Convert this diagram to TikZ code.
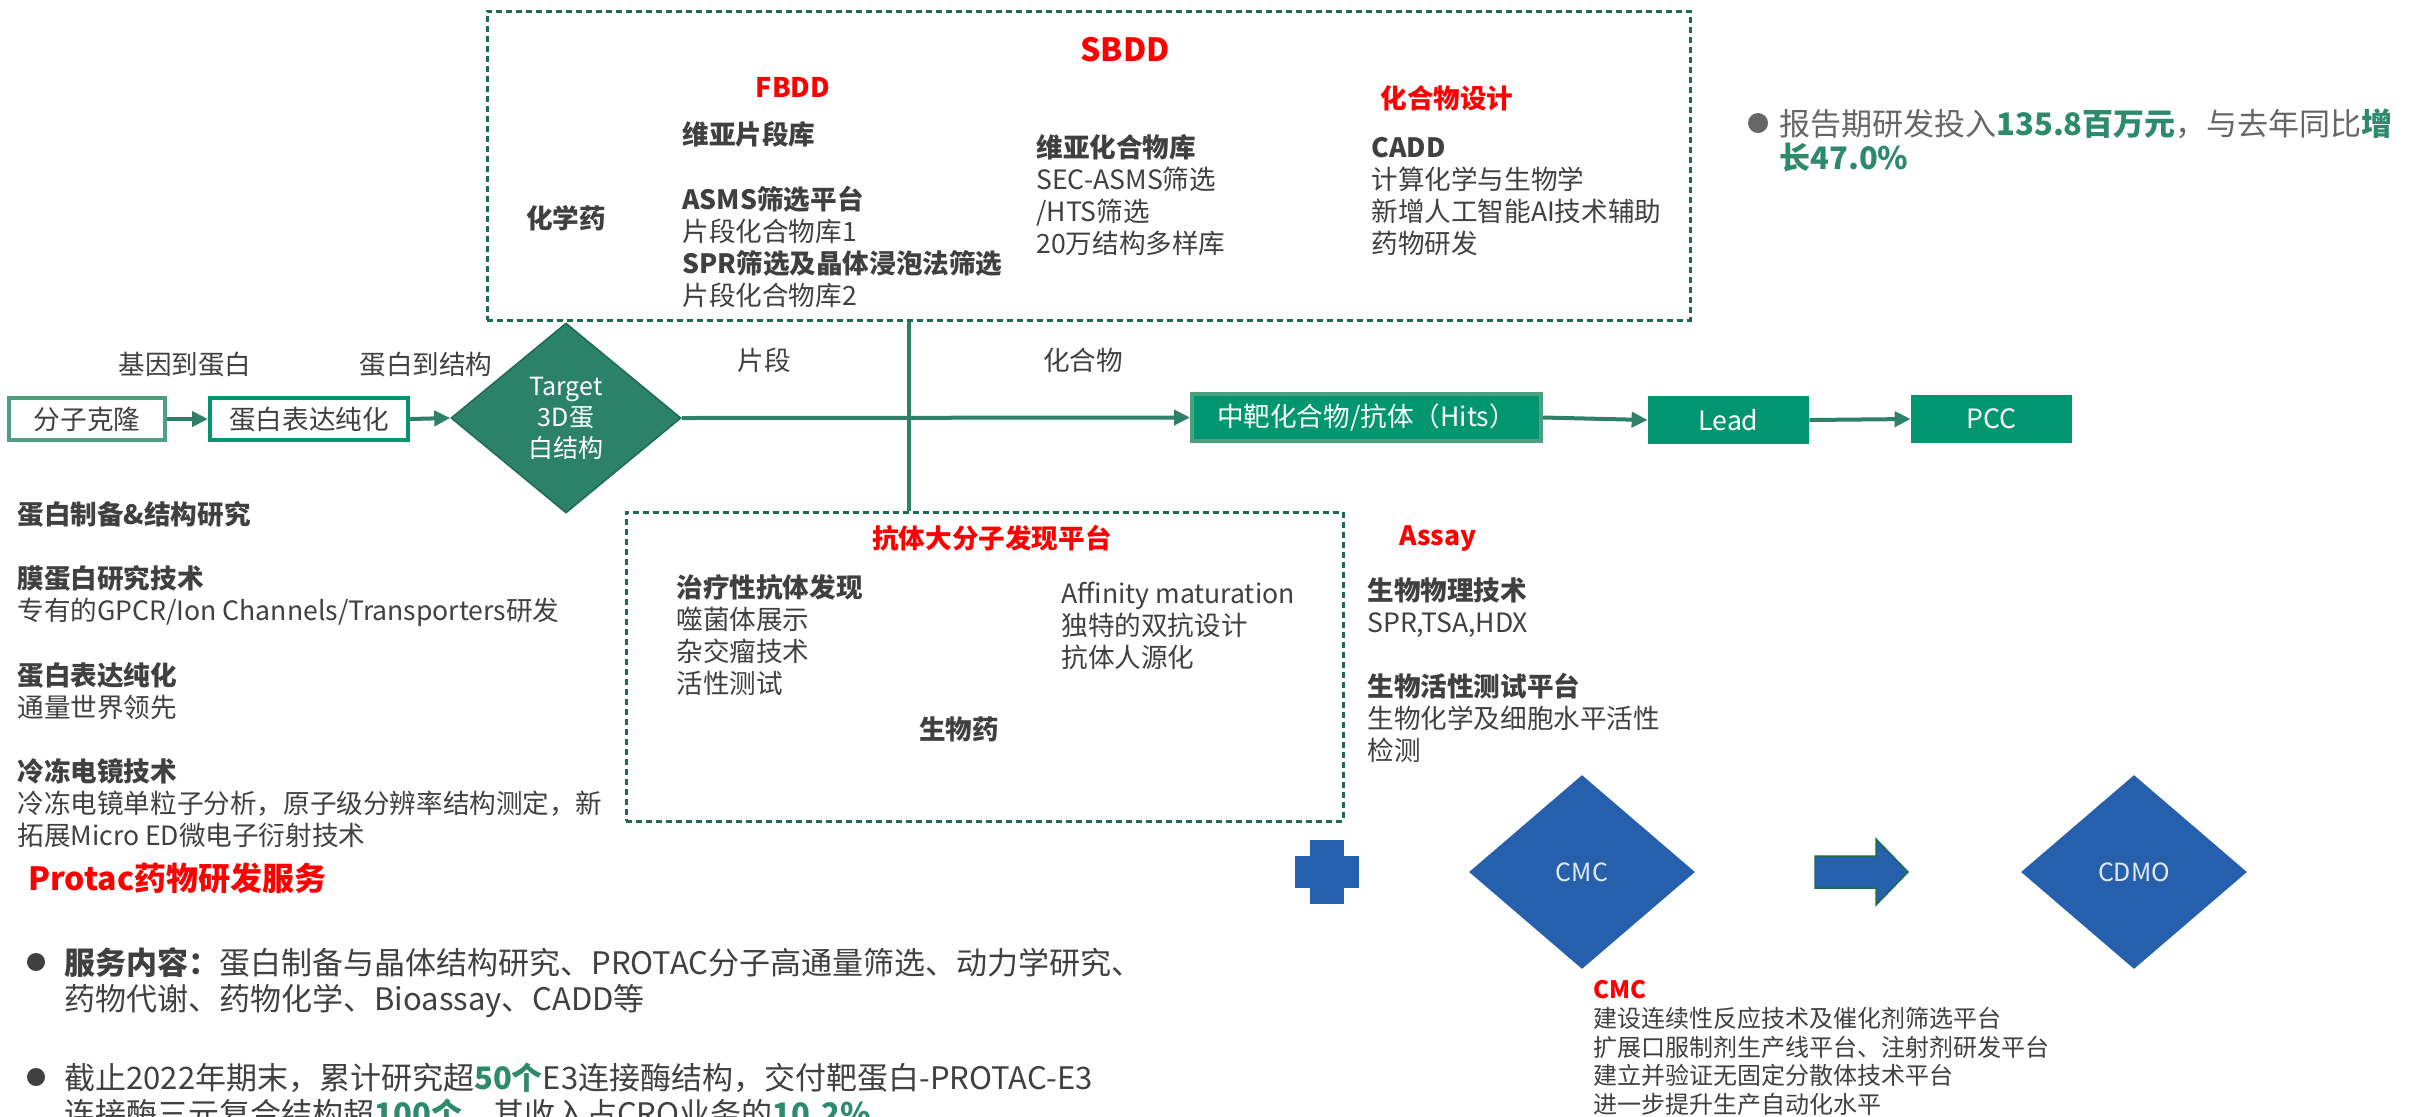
\documentclass[tikz,border=0pt]{standalone}
\usepackage{fontspec}
\setmainfont{Noto Sans CJK SC}
\usetikzlibrary{arrows.meta,shapes.geometric}
\definecolor{ink}{HTML}{404040}
\definecolor{redc}{HTML}{FF0000}
\definecolor{tgreen}{HTML}{2E8068}
\definecolor{tdia}{HTML}{2B8268}
\definecolor{tdiab}{HTML}{1F6B53}
\definecolor{dgreen}{HTML}{1E6B4E}
\definecolor{boxgreen}{HTML}{00966F}
\definecolor{lgreen}{HTML}{4E9E80}
\definecolor{hgreen}{HTML}{2E8B6A}
\definecolor{blue2}{HTML}{2660AC}
\definecolor{gray2}{HTML}{666666}
\definecolor{dtext}{HTML}{E4EAF3}
\newcommand\tstrut{\rule{0pt}{0.85em}}
\newcommand\fsz[2]{\fontsize{#1}{#2}\selectfont}
\begin{document}
\begin{tikzpicture}[x=0.5pt,y=-0.5pt,
  body/.style={font=\fsz{13.3pt}{16pt}, text=ink, inner sep=0pt},
  blk/.style={body, anchor=north west, align=left},
  lin/.style={body, anchor=west},
  lab/.style={body, anchor=center},
  boldf/.style={font=\fsz{13.3pt}{16pt}\bfseries},
  redb/.style={text=redc, font=\fsz{13.3pt}{16pt}\bfseries, inner sep=0pt},
  arr/.style={draw=tgreen, line width=2pt, -{Triangle[length=8pt,width=7.5pt]}},
  vline/.style={draw=tgreen, line width=2pt},
  dbox/.style={draw=dgreen, line width=1.5pt, dash pattern=on 3pt off 2pt, inner sep=0pt},
  gbox/.style={minimum height=23.5pt, inner sep=0pt, font=\fsz{13.3pt}{16pt}, text=white, fill=boxgreen},
  wbox/.style={fill=white, line width=2pt, minimum height=21pt, inner sep=0pt, font=\fsz{13.3pt}{16pt}, text=ink},
  bdia/.style={diamond, fill=blue2, minimum width=113pt, minimum height=97pt, inner sep=0pt, text=dtext, font=\fsz{12.5pt}{15pt}},
  dot/.style={circle, fill=ink, minimum size=9pt, inner sep=0pt}
]
\useasboundingbox (0,0) rectangle (2415,1116);
\fill[white] (0,0) rectangle (2415,1116);

% dashed boxes
\node[dbox, minimum width=601.5pt, minimum height=154.5pt] (sbddbox) at (1088.5,165.5) {};
\node[dbox, minimum width=358.5pt, minimum height=154.5pt] (abbox) at (984.5,666.5) {};

% flow nodes
\node[wbox, draw=lgreen, minimum width=78pt] (clone) at (87,419) {分子克隆};
\node[wbox, draw=boxgreen, minimum width=99pt] (expr) at (309,419) {蛋白表达纯化};
\node[diamond, fill=tdia, draw=tdiab, line width=0.75pt, minimum width=115pt, minimum height=95pt, inner sep=0pt, text=white, align=center, font=\fsz{12.5pt}{15.5pt}] (target) at (566,418) {Target\\3D蛋\\白结构};
\node[gbox, draw=lgreen, line width=2pt, minimum width=174.5pt] (hits) at (1366.5,417.5) {中靶化合物/抗体（Hits）};
\node[gbox, minimum width=80.5pt, minimum height=24pt] (lead) at (1728.5,420) {Lead};
\node[gbox, minimum width=80.5pt, minimum height=24pt] (pcc) at (1991.5,419) {PCC};

% connectors
\draw[arr] (clone.east) -- (expr.west);
\draw[arr] (expr.east) -- (target.west);
\draw[arr] (target.east) -- (hits.west);
\draw[arr] (hits.east) -- (lead.west);
\draw[arr] (lead.east) -- (pcc.west);
\coordinate (vx) at (909,0);
\draw[vline] (sbddbox.south -| vx) -- (abbox.north -| vx);

% labels along the flow
\node[lab] (l1) at (185,364) {基因到蛋白};
\node[lab] (l2) at (426,364) {蛋白到结构};
\node[lab] (l3) at (764,360) {片段};
\node[lab] (l4) at (1083,360) {化合物};

% top box texts
\node[redb, font=\fsz{16pt}{18pt}\bfseries] (sbdd) at (1125,50) {SBDD};
\node[redb, font=\fsz{13.5pt}{16pt}\bfseries] (fbdd) at (793,87) {FBDD};
\node[redb] (design) at (1447,98) {化合物设计};
\node[lab, boldf] (chem) at (566,218) {化学药};
\node[lin, boldf] (fb1) at (682,134) {维亚片段库};
\node[blk] (fb2) at (682,185.5) {\tstrut\textbf{ASMS筛选平台}\\片段化合物库1\\\textbf{SPR筛选及晶体浸泡法筛选}\\片段化合物库2};
\node[blk] (sb1) at (1036,134.5) {\tstrut\textbf{维亚化合物库}\\SEC-ASMS筛选\\/HTS筛选\\20万结构多样库};
\node[blk] (cadd) at (1371,134.5) {\tstrut\textbf{CADD}\\计算化学与生物学\\新增人工智能AI技术辅助\\药物研发};

% left texts
\node[lin, boldf] (prep) at (17,514) {蛋白制备\&结构研究};
\node[blk] (mem) at (17,565.5) {\tstrut\textbf{膜蛋白研究技术}\\专有的GPCR/Ion Channels/Transporters研发};
\node[blk] (exprt) at (17,662.5) {\tstrut\textbf{蛋白表达纯化}\\通量世界领先};
\node[blk] (cryo) at (17,758.5) {\tstrut\textbf{冷冻电镜技术}\\冷冻电镜单粒子分析，原子级分辨率结构测定，新\\拓展Micro ED微电子衍射技术};
\node[lin, text=redc, font=\fsz{16pt}{18pt}\bfseries] (protac) at (28,878) {Protac药物研发服务};

% bullets bottom left
\node[dot] (dot1) at (36,962) {};
\node[blk, font=\fsz{15.5pt}{18pt}] (svc) at (64,947.4) {\tstrut\textbf{服务内容：}蛋白制备与晶体结构研究、PROTAC分子高通量筛选、动力学研究、\\药物代谢、药物化学、Bioassay、CADD等};
\node[dot] (dot2) at (36,1077) {};
\node[blk, font=\fsz{15.5pt}{18pt}] (e3) at (64,1062.4) {\tstrut 截止2022年期末，累计研究超{\color{hgreen}\bfseries 50个}E3连接酶结构，交付靶蛋白-PROTAC-E3\\连接酶三元复合结构超{\color{hgreen}\bfseries 100个}，其收入占CRO业务的{\color{hgreen}\bfseries 10.2\%}};

% top right bullet
\node[dot, fill=gray2, minimum size=10pt] (dot3) at (1758,123) {};
\node[blk, text=gray2, font=\fsz{15.5pt}{17pt}] (rd) at (1779,108.4) {\tstrut 报告期研发投入{\color{hgreen}\bfseries 135.8百万元}，与去年同比{\color{hgreen}\bfseries 增}\\{\color{hgreen}\bfseries 长47.0\%}};

% antibody box
\node[redb] (abplat) at (992,538) {抗体大分子发现平台};
\node[blk] (ab1) at (676,574.5) {\tstrut\textbf{治疗性抗体发现}\\噬菌体展示\\杂交瘤技术\\活性测试};
\node[blk] (ab2) at (1061,580.5) {\tstrut Affinity maturation\\独特的双抗设计\\抗体人源化};
\node[lab, boldf] (bio) at (959,729) {生物药};

% assay
\node[redb] (assay) at (1438,538) {Assay};
\node[blk] (bp) at (1367,577.5) {\tstrut\textbf{生物物理技术}\\SPR,TSA,HDX};
\node[blk] (ba) at (1367,672.5) {\tstrut\textbf{生物活性测试平台}\\生物化学及细胞水平活性\\检测};

% CMC / CDMO
\fill[blue2] (1310,840) rectangle (1344,904);
\fill[blue2] (1295,856) rectangle (1359,888);
\node[bdia] (cmc) at (1582,872) {CMC};
\filldraw[fill=blue2, draw=dgreen, line width=0.75pt] (1815,856) -- (1876,856) -- (1876,839) -- (1908,872) -- (1876,905) -- (1876,888) -- (1815,888) -- cycle;
\node[bdia] (cdmo) at (2134,872) {CDMO};
\node[blk, font=\fsz{12pt}{14.4pt}] (cmctext) at (1593,977.7) {\tstrut{\color{redc}\bfseries CMC}\\建设连续性反应技术及催化剂筛选平台\\扩展口服制剂生产线平台、注射剂研发平台\\建立并验证无固定分散体技术平台\\进一步提升生产自动化水平};
\end{tikzpicture}
\end{document}
